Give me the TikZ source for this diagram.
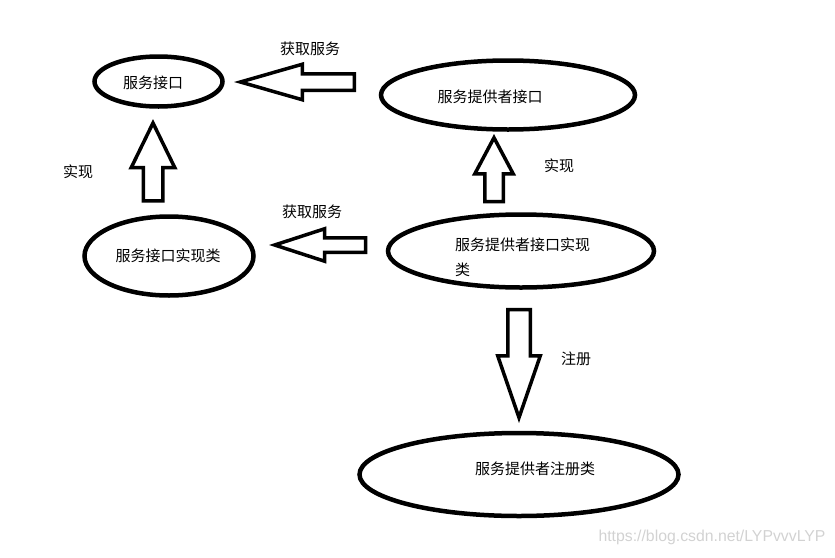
\documentclass[tikz,border=0pt]{standalone}
\usepackage{fontspec}
\newfontfamily\cjk{Noto Sans CJK SC}
\newfontfamily\wmfont{Liberation Sans}
\usetikzlibrary{shapes.geometric,shapes.arrows}

\begin{document}
\begin{tikzpicture}[
    x=1pt, y=-1pt,
    every node/.style={align=center},
    serviceEllipse/.style={draw, shape=ellipse, line width=4.5pt, inner sep=0pt},
    blockArrow/.style={draw, single arrow, line width=3.5pt, inner xsep=0pt, anchor=tip},  % hollow block arrows
    cjkText/.style={font=\cjk\fontsize{15}{25}\selectfont, inner sep=0pt},
    markText/.style={font=\wmfont\fontsize{15.8}{18}\selectfont, text=gray!35, inner sep=0pt}
  ]
  \useasboundingbox (0,0) rectangle (835,557);

  % ellipses
  \node[serviceEllipse, minimum width=128pt, minimum height=50pt] (iface) at (158.5,81.5) {};
  \node[serviceEllipse, minimum width=254pt, minimum height=69pt] (prov) at (508,95) {};
  \node[serviceEllipse, minimum width=169pt, minimum height=79pt] (impl) at (169,256) {};
  \node[serviceEllipse, minimum width=266pt, minimum height=73pt] (provImpl) at (521,251) {};
  \node[serviceEllipse, minimum width=319pt, minimum height=83pt] (reg) at (519,474.5) {};

  % texts in the ellipses
  \node[cjkText] (ifaceText) at (153,83) {服务接口};
  \node[cjkText] (provText) at (490,97) {服务提供者接口};
  \node[cjkText] (implText) at (168,256) {服务接口实现类};
  \node[cjkText, align=left, anchor=west] (provImplText) at (455,257.5) {服务提供者接口实现\\类};
  \node[cjkText] (regText) at (535,469) {服务提供者注册类};

  % block arrows
  \node[blockArrow, rotate=180, minimum height=114pt, minimum width=32pt, inner ysep=6.5pt,
        single arrow head extend=9.5pt, single arrow tip angle=32] (getTop) at (234,82) {};
  \node[blockArrow, rotate=90, minimum height=78pt, minimum width=40pt, inner ysep=8pt,
        single arrow head extend=12pt, single arrow tip angle=52] (implLeft) at (153,119) {};
  \node[blockArrow, rotate=180, minimum height=91pt, minimum width=29pt, inner ysep=5.5pt,
        single arrow head extend=9pt, single arrow tip angle=36] (getMid) at (269,245) {};
  \node[blockArrow, rotate=90, minimum height=64pt, minimum width=35pt, inner ysep=7.5pt,
        single arrow head extend=10pt, single arrow tip angle=56] (implRight) at (494,134) {};
  \node[blockArrow, rotate=-90, minimum height=108pt, minimum width=39pt, inner ysep=9.5pt,
        single arrow head extend=10pt, single arrow tip angle=38] (regArrow) at (519,423) {};

  % arrow labels
  \node[cjkText] (getLblTop) at (310,49) {获取服务};
  \node[cjkText] (getLblMid) at (312,212) {获取服务};
  \node[cjkText] (implLblLeft) at (78,172) {实现};
  \node[cjkText] (implLblRight) at (559,166) {实现};
  \node[cjkText] (regLbl) at (576,359) {注册};

  \node[markText] (mark) at (712,537) {https://blog.csdn.net/LYPvvvLYP};
\end{tikzpicture}
\end{document}
